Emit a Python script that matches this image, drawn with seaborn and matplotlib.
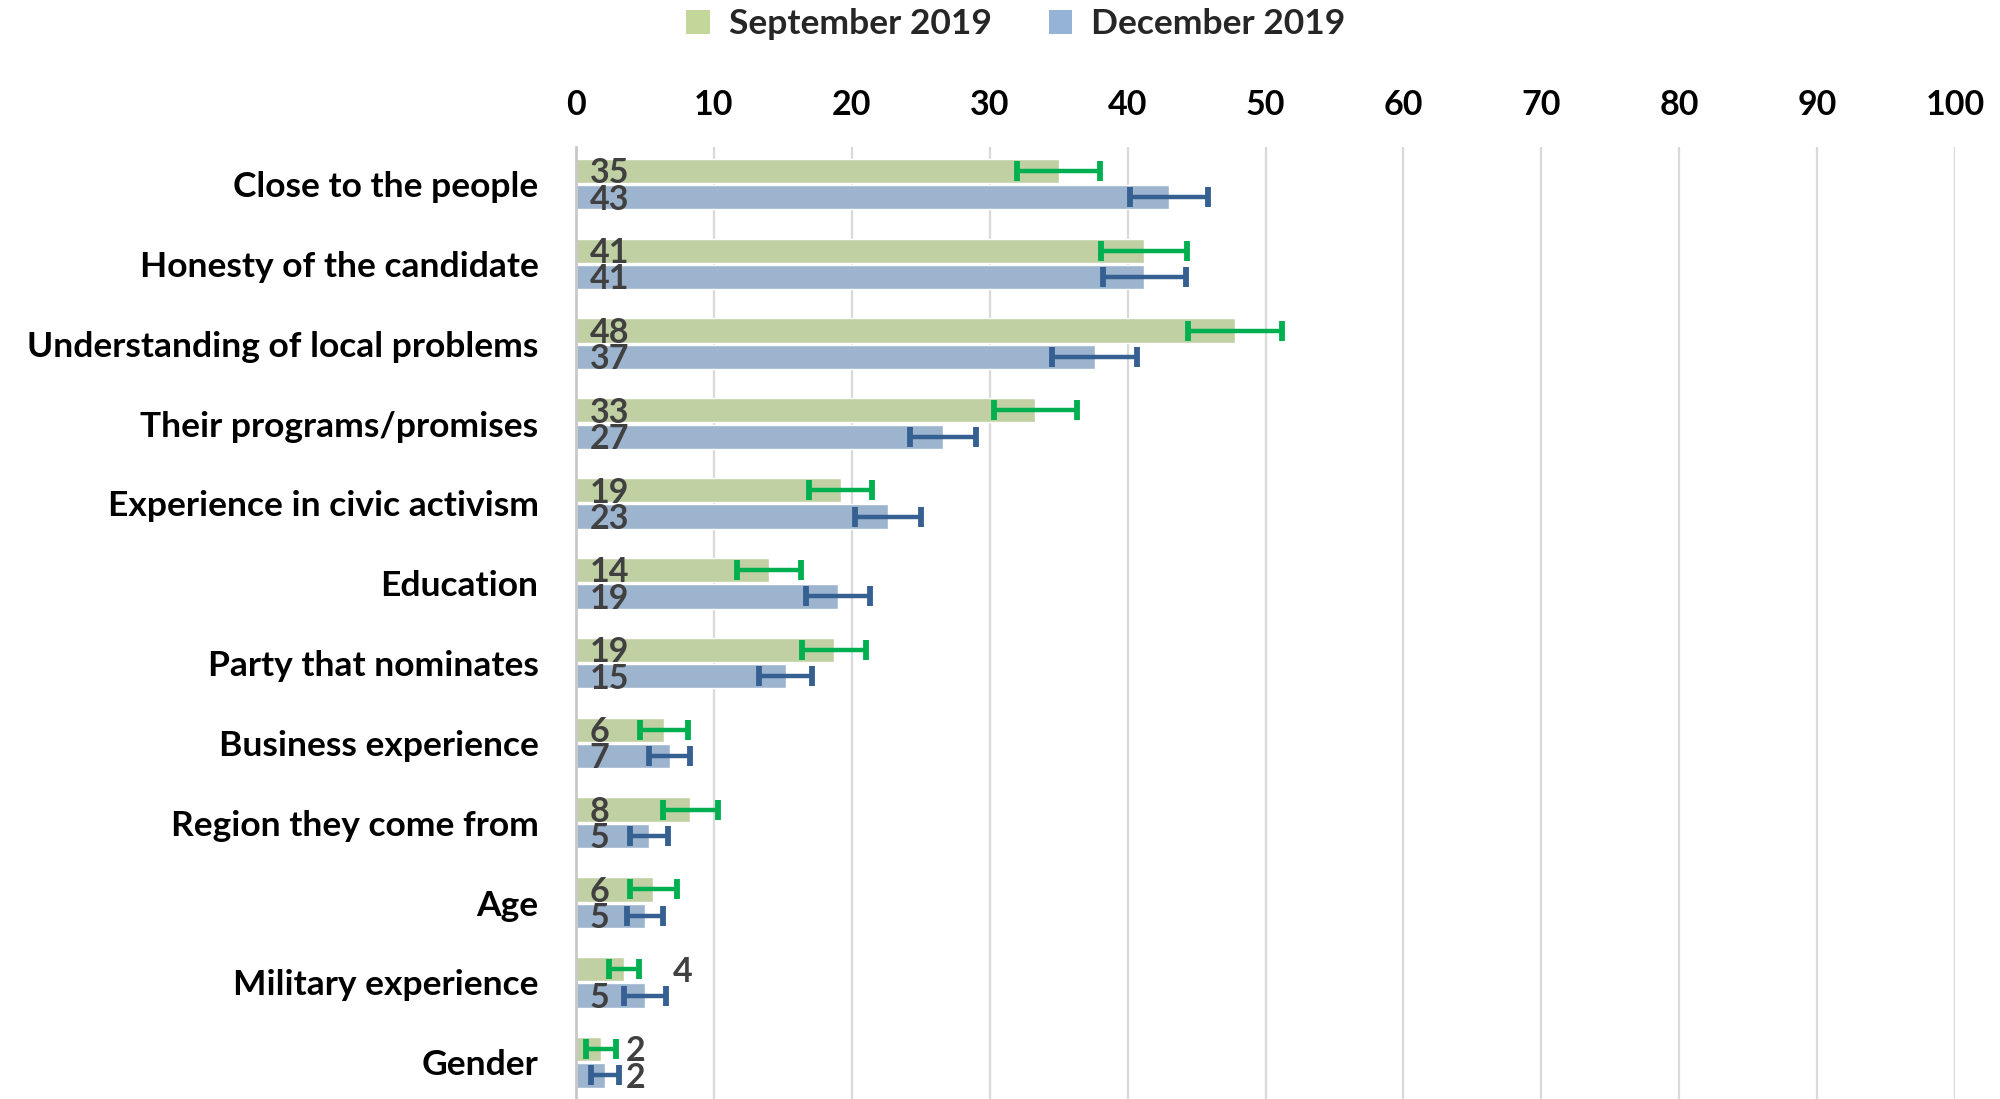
import numpy as np
import pandas as pd
import matplotlib
matplotlib.use("Agg")
import matplotlib.pyplot as plt
from matplotlib.patches import Patch
import seaborn as sns

# Data
CATEGORIES = [
    "Close to the people",
    "Honesty of the candidate",
    "Understanding of local problems",
    "Their programs/promises",
    "Experience in civic activism",
    "Education",
    "Party that nominates",
    "Business experience",
    "Region they come from",
    "Age",
    "Military experience",
    "Gender",
]
SEP_VALUES = [35.0, 41.2, 47.8, 33.3, 19.2, 14.0, 18.7, 6.4, 8.3, 5.6, 3.5, 1.8]
DEC_VALUES = [43.0, 41.2, 37.6, 26.6, 22.6, 19.0, 15.2, 6.8, 5.3, 5.0, 5.0, 2.1]
SEP_ERR = [3.0, 3.1, 3.4, 3.0, 2.3, 2.3, 2.3, 1.75, 2.0, 1.7, 1.1, 1.1]
DEC_ERR = [2.8, 3.0, 3.1, 2.4, 2.4, 2.3, 1.9, 1.5, 1.4, 1.3, 1.5, 1.0]
SEP_LABELS = [35, 41, 48, 33, 19, 14, 19, 6, 8, 6, 4, 2]
DEC_LABELS = [43, 41, 37, 27, 23, 19, 15, 7, 5, 5, 5, 2]
SERIES = ["September 2019", "December 2019"]
X_TICKS = list(range(0, 101, 10))

# Style
BAR_COLORS = {"September 2019": "#C4D79B", "December 2019": "#95B3D7"}
ERR_COLORS = {"September 2019": "#00B050", "December 2019": "#366092"}
TEXT_COLOR = "#404040"
LABEL_SIZE = 25.5
TICK_SIZE = 24.5
VALUE_SIZE = 24.5

sns.set_theme(style="white")
plt.rcParams["font.family"] = ["Lato", "DejaVu Sans"]
plt.rcParams["font.weight"] = "bold"

df = pd.DataFrame({
    "category": CATEGORIES * 2,
    "value": SEP_VALUES + DEC_VALUES,
    "series": [SERIES[0]] * len(CATEGORIES) + [SERIES[1]] * len(CATEGORIES),
})

fig = plt.figure(figsize=(20, 10.99), dpi=100)
ax = fig.add_axes([0.288, 0.0, 0.6895, 0.866])

sns.barplot(
    data=df, y="category", x="value", hue="series", orient="h",
    palette=BAR_COLORS, width=0.66, gap=0.08, errorbar=None,
    legend=False, ax=ax, zorder=2,
)

values = {SERIES[0]: SEP_VALUES, SERIES[1]: DEC_VALUES}
errors = {SERIES[0]: SEP_ERR, SERIES[1]: DEC_ERR}
labels = {SERIES[0]: SEP_LABELS, SERIES[1]: DEC_LABELS}

# y centers of each bar, pulled from the seaborn containers
centers = {}
for s, cont in zip(SERIES, ax.containers):
    centers[s] = [p.get_y() + p.get_height() / 2 for p in cont.patches]

for s in SERIES:
    ax.errorbar(values[s], centers[s], xerr=errors[s], fmt="none",
                ecolor=ERR_COLORS[s], elinewidth=3.2, capsize=7.5,
                capthick=4.2, zorder=3)

for i in range(len(CATEGORIES)):
    pair_end = max(SEP_VALUES[i] + SEP_ERR[i], DEC_VALUES[i] + DEC_ERR[i])
    for s in SERIES:
        v = values[s][i]
        # small bars get their label past the error bars
        if v < 4:
            x = pair_end + 0.5
        else:
            x = 1.0
        ax.text(x, centers[s][i] + 0.03, str(labels[s][i]), ha="left",
                va="center", fontsize=VALUE_SIZE, fontweight="bold",
                color=TEXT_COLOR, zorder=4)

ax.set_xlim(0, 100)
ax.set_ylim(len(CATEGORIES) - 0.54, -0.46)
ax.set_xticks(X_TICKS)
ax.xaxis.tick_top()
ax.tick_params(axis="x", length=0, pad=19, labelsize=TICK_SIZE)
ax.tick_params(axis="y", length=0, pad=27, labelsize=LABEL_SIZE)
for lab in ax.get_xticklabels() + ax.get_yticklabels():
    lab.set_fontweight("bold")
    lab.set_color("black")
ax.set_xlabel("")
ax.set_ylabel("")

ax.grid(axis="x", color="#D9D9D9", linewidth=1.6, zorder=0)
ax.grid(axis="y", visible=False)
ax.set_axisbelow(True)
for side in ["top", "right", "bottom"]:
    ax.spines[side].set_visible(False)
ax.spines["left"].set_color("#C8C8C8")
ax.spines["left"].set_linewidth(2)

handles = [Patch(facecolor=BAR_COLORS[s], edgecolor="none") for s in SERIES]
fig.legend(handles, SERIES, loc="center", bbox_to_anchor=(0.508, 0.978),
           ncol=2, frameon=False, handlelength=0.65, handleheight=0.65,
           handletextpad=0.55, columnspacing=1.6,
           prop={"weight": "bold", "size": LABEL_SIZE})

fig.savefig("out.png", dpi=100)
